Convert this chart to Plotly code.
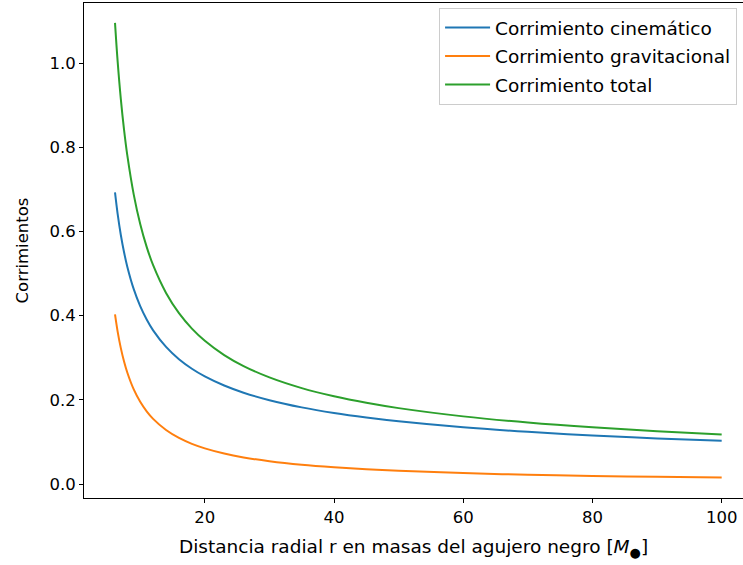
import plotly.graph_objects as go

# Radial distance r (in units of black-hole mass)
r_vals = [6.1, 6.5, 7, 7.5, 8, 9, 10, 11, 12, 14, 16, 18, 20, 23, 26, 30,
          35, 40, 45, 50, 60, 70, 80, 90, 100]

# Kinematic redshift
z_kin = [0.6928, 0.6424, 0.5916, 0.5505, 0.5164, 0.4629, 0.4226, 0.3909,
         0.3651, 0.3257, 0.2965, 0.2739, 0.2557, 0.2340, 0.2170, 0.1992,
         0.1821, 0.1687, 0.1579, 0.1489, 0.1347, 0.1240, 0.1154, 0.1084,
         0.1026]

# Gravitational redshift
z_grav = [0.4028, 0.3628, 0.3229, 0.2910, 0.2649, 0.2247, 0.1952, 0.1726,
          0.1547, 0.1282, 0.1094, 0.0954, 0.0847, 0.0724, 0.0632, 0.0541,
          0.0458, 0.0398, 0.0351, 0.0314, 0.0260, 0.0221, 0.0193, 0.0171,
          0.0153]

# Total redshift
z_total = [1.0956, 1.0052, 0.9145, 0.8415, 0.7813, 0.6876, 0.6178, 0.5635,
           0.5198, 0.4539, 0.4059, 0.3693, 0.3404, 0.3064, 0.2802, 0.2533,
           0.2279, 0.2085, 0.1930, 0.1803, 0.1607, 0.1461, 0.1347, 0.1255,
           0.1179]

x_ticks = [20, 40, 60, 80, 100]
y_ticks = [0.0, 0.2, 0.4, 0.6, 0.8, 1.0]

series = [
    ("Corrimiento cinemático", z_kin, "#1f77b4"),
    ("Corrimiento gravitacional", z_grav, "#ff7f0e"),
    ("Corrimiento total", z_total, "#2ca02c"),
]

FONT = "DejaVu Sans"

fig = go.Figure()
for i, (name, ys, color) in enumerate(series):
    fig.add_trace(go.Scatter(
        x=r_vals, y=ys, name=name, mode="lines",
        line=dict(color=color, width=2, shape="spline", smoothing=1.0),
        legendgroup=f"g{i}",
    ))

fig.update_layout(
    width=743, height=565,
    margin=dict(l=84, r=0, t=3, b=67),
    paper_bgcolor="white", plot_bgcolor="white",
    font=dict(family=FONT, size=16.5, color="black"),
    showlegend=True,
    legend=dict(
        x=0.991, y=0.99, xanchor="right", yanchor="top",
        bgcolor="rgba(255,255,255,0.8)", bordercolor="#cccccc", borderwidth=1,
        font=dict(family=FONT, size=18.5, color="black"),
        tracegroupgap=1.5, itemwidth=45,
    ),
    xaxis=dict(
        range=[1.30, 103.3], tickvals=x_ticks,
        ticktext=[str(v) for v in x_ticks],
        tickfont=dict(family=FONT, size=16.5),
        showgrid=False, zeroline=False,
        showline=True, linecolor="black", linewidth=1, mirror=True,
        ticks="outside", ticklen=4, tickcolor="black", tickwidth=1,
        title=dict(
            text="Distancia radial r en masas del agujero negro [<i>M</i><sub>●</sub>]",
            font=dict(family=FONT, size=18.5), standoff=14,
        ),
    ),
    yaxis=dict(
        range=[-0.0332, 1.1428], tickvals=y_ticks,
        ticktext=[f"{v:.1f}" for v in y_ticks],
        tickfont=dict(family=FONT, size=16.5),
        showgrid=False, zeroline=False,
        showline=True, linecolor="black", linewidth=1, mirror=False,
        ticks="outside", ticklen=4, tickcolor="black", tickwidth=1,
        title=dict(text="Corrimientos", font=dict(family=FONT, size=16.5), standoff=16),
    ),
)

fig.write_html("out.html")
